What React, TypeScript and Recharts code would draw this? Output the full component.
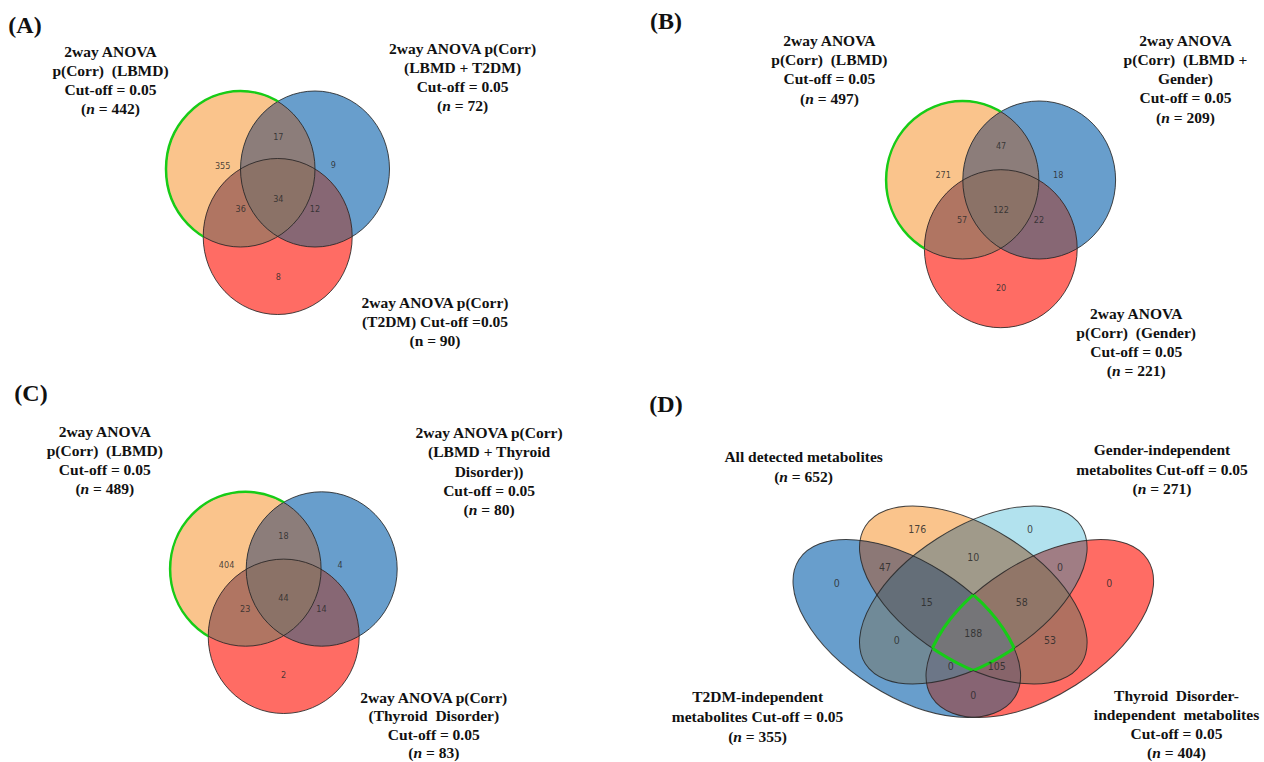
import { ScatterChart, Scatter, XAxis, YAxis } from 'recharts'

const W = 1264
const H = 762

// one bit per set, in the order the sets are listed for the panel
const TRIPLE_REGIONS = ['100', '010', '001', '110', '101', '011', '111']
const QUAD_REGIONS = [
  '1000', '0100', '0010', '0001',
  '1100', '1010', '1001', '0110', '0101', '0011',
  '1110', '1101', '1011', '0111',
  '1111',
]

const A_COUNTS = [355, 9, 8, 17, 36, 12, 34]
const B_COUNTS = [271, 18, 20, 47, 57, 22, 122]
const C_COUNTS = [404, 4, 2, 18, 23, 14, 44]
// sets: All, Gender, T2DM, Thyroid
const D_COUNTS = [176, 0, 0, 0, 10, 47, 53, 0, 0, 0, 15, 58, 105, 0, 188]

const PANEL_TAGS = ['(A)', '(B)', '(C)', '(D)']

const A_TITLES = [
  ['2way ANOVA', 'p(Corr)  (LBMD)', 'Cut-off = 0.05', '(_n_ = 442)'],
  ['2way ANOVA p(Corr)', '(LBMD + T2DM)', 'Cut-off = 0.05', '(_n_ = 72)'],
  ['2way ANOVA p(Corr)', '(T2DM) Cut-off =0.05', '(n = 90)'],
]
const B_TITLES = [
  ['2way ANOVA', 'p(Corr)  (LBMD)', 'Cut-off = 0.05', '(_n_ = 497)'],
  ['2way ANOVA', 'p(Corr)  (LBMD +', 'Gender)', 'Cut-off = 0.05', '(_n_ = 209)'],
  ['2way ANOVA', 'p(Corr)  (Gender)', 'Cut-off = 0.05', '(_n_ = 221)'],
]
const C_TITLES = [
  ['2way ANOVA', 'p(Corr)  (LBMD)', 'Cut-off = 0.05', '(_n_ = 489)'],
  ['2way ANOVA p(Corr)', '(LBMD + Thyroid', 'Disorder))', 'Cut-off = 0.05', '(_n_ = 80)'],
  ['2way ANOVA p(Corr)', '(Thyroid  Disorder)', 'Cut-off = 0.05', '(_n_ = 83)'],
]
const D_TITLES = [
  ['All detected metabolites', '(_n_ = 652)'],
  ['Gender-independent', 'metabolites Cut-off = 0.05', '(_n_ = 271)'],
  ['T2DM-independent', 'metabolites Cut-off = 0.05', '(_n_ = 355)'],
  ['Thyroid  Disorder-', 'independent  metabolites', 'Cut-off = 0.05', '(_n_ = 404)'],
]

// ---- layout (axis units are page pixels) ----
const TRIPLE_FILLS = ['#FAC48C', '#689ECC', '#FF6C64', '#8C7D7A', '#B07562', '#876774', '#8B7267']
const QUAD_FILLS = [
  '#FAC48C', '#B2E2EE', '#689ECC', '#FF6C64',
  '#A09A8A', '#8C7876', '#B07060', '#708A98', '#A07D84', '#876473',
  '#646E78', '#917668', '#87646A', '#6C7687',
  '#757578',
]
const GREEN = '#17CC17'

type Ell = { x: number; y: number; rx: number; ry: number; rot: number }
type Panel = {
  sets: Ell[]
  regions: string[]
  counts: number[]
  fills: string[]
  countPos: number[][]
  countSize: number
  titles: string[][]
  titlePos: number[][]
  tagPos: number[]
  highlight: 'outer' | 'core'
}

const PANELS: Panel[] = [
  {
    sets: [
      { x: 240.5, y: 169, rx: 74.5, ry: 78, rot: 0 },
      { x: 315, y: 169, rx: 74.5, ry: 78, rot: 0 },
      { x: 277.7, y: 236.5, rx: 74.5, ry: 78, rot: 0 },
    ],
    regions: TRIPLE_REGIONS,
    counts: A_COUNTS,
    fills: TRIPLE_FILLS,
    countPos: [[222.7, 166], [333.3, 165], [278.3, 276.7], [278.3, 136.7], [240.7, 208.3], [315, 208.3], [278.3, 198.3]],
    countSize: 9,
    titles: A_TITLES,
    titlePos: [[110.5, 51, 19], [462.6, 48.3, 19], [435, 302.7, 19]],
    tagPos: [25, 25],
    highlight: 'outer',
  },
  {
    sets: [
      { x: 962.5, y: 180, rx: 76.4, ry: 79, rot: 0 },
      { x: 1039.2, y: 180, rx: 76.4, ry: 79, rot: 0 },
      { x: 1000.8, y: 248.7, rx: 76.4, ry: 79, rot: 0 },
    ],
    regions: TRIPLE_REGIONS,
    counts: B_COUNTS,
    fills: TRIPLE_FILLS,
    countPos: [[943.2, 175], [1058.2, 175], [1001.1, 287.7], [1001.1, 146], [962.1, 220], [1038.9, 220], [1001.1, 209.3]],
    countSize: 9,
    titles: B_TITLES,
    titlePos: [[829.4, 40, 19.4], [1185.5, 40, 19.3], [1136.2, 313.3, 19.1]],
    tagPos: [666, 21],
    highlight: 'outer',
  },
  {
    sets: [
      { x: 245.6, y: 569, rx: 75.5, ry: 77.2, rot: 0 },
      { x: 321.7, y: 569, rx: 75.5, ry: 77.2, rot: 0 },
      { x: 283.7, y: 636.3, rx: 75.5, ry: 77.2, rot: 0 },
    ],
    regions: TRIPLE_REGIONS,
    counts: C_COUNTS,
    fills: TRIPLE_FILLS,
    countPos: [[226.6, 564.3], [340, 564.3], [283.5, 675], [283.5, 536], [245.2, 608.3], [321.5, 608.3], [283.5, 597.7]],
    countSize: 9,
    titles: C_TITLES,
    titlePos: [[104.8, 431, 19.2], [489.1, 432.3, 19.4], [433.8, 697, 18.5]],
    tagPos: [31, 393],
    highlight: 'outer',
  },
  {
    sets: [
      { x: 973.3, y: 595, rx: 128, ry: 67, rot: 32.5 },
      { x: 973.3, y: 595, rx: 128, ry: 67, rot: -32.5 },
      { x: 906.8, y: 628.5, rx: 128, ry: 67, rot: 32.5 },
      { x: 1039.8, y: 628.5, rx: 128, ry: 67, rot: -32.5 },
    ],
    regions: QUAD_REGIONS,
    counts: D_COUNTS,
    fills: QUAD_FILLS,
    countPos: [
      [917.3, 529.3], [1030, 529.3], [836.7, 583.3], [1109.3, 583.3],
      [973.3, 557.3], [885, 567.7], [1050, 640.7], [896.7, 640.7], [1060, 567.7], [973.3, 695],
      [926.7, 602.7], [1021.7, 602.7], [996.7, 666.7], [950.7, 666.7],
      [973.3, 633.3],
    ],
    countSize: 10.5,
    titles: D_TITLES,
    titlePos: [[803.6, 456.7, 20], [1162, 449.3, 19.7], [757.6, 696, 20], [1176.5, 695, 19]],
    tagPos: [666, 404],
    highlight: 'core',
  },
]

const drawEll = (e: Ell, props: Record<string, unknown>, key?: string | number) => (
  <ellipse
    key={key}
    cx={e.x}
    cy={e.y}
    rx={e.rx}
    ry={e.ry}
    transform={e.rot ? `rotate(${e.rot} ${e.x} ${e.y})` : undefined}
    {...props}
  />
)

// wrap a node so it only shows inside every listed ellipse
function clipInside(node: JSX.Element, sets: Ell[], members: number[], id: string) {
  let out = node
  members.forEach((m, j) => {
    out = <g clipPath={`url(#${id}-${j})`}>{out}</g>
  })
  return (
    <g>
      <defs>
        {members.map((m, j) => (
          <clipPath key={j} id={`${id}-${j}`}>
            {drawEll(sets[m], {})}
          </clipPath>
        ))}
      </defs>
      {out}
    </g>
  )
}

const regionData = PANELS.flatMap((p, pi) =>
  p.regions.map((code, ri) => ({
    x: p.countPos[ri][0],
    y: p.countPos[ri][1],
    panel: pi,
    code,
    color: p.fills[ri],
    count: p.counts[ri],
    size: p.countSize,
  })),
)

const setData = PANELS.flatMap((p, pi) => p.sets.map((s, si) => ({ x: s.x, y: s.y, panel: pi, idx: si })))

const highlightData = PANELS.map((p, pi) => ({ x: p.sets[0].x, y: p.sets[0].y, panel: pi }))

const titleData = PANELS.flatMap((p) =>
  p.titles.map((lines, ti) => ({
    x: p.titlePos[ti][0],
    y: p.titlePos[ti][1],
    step: p.titlePos[ti][2],
    lines,
  })),
)

const tagData = PANELS.map((p, pi) => ({ x: p.tagPos[0], y: p.tagPos[1], tag: PANEL_TAGS[pi] }))

function RegionShape(props: any) {
  const { panel, code, color } = props.payload
  const sets = PANELS[panel].sets
  const members = code.split('').map((c: string, i: number) => (c === '1' ? i : -1)).filter((i: number) => i >= 0)
  const last = members[members.length - 1]
  return clipInside(drawEll(sets[last], { fill: color }), sets, members.slice(0, -1), `rg-${panel}-${code}`)
}

function OutlineShape(props: any) {
  const { cx, cy, payload } = props
  const e = PANELS[payload.panel].sets[payload.idx]
  return drawEll({ ...e, x: cx, y: cy }, { fill: 'none', stroke: '#262626', strokeOpacity: 0.85, strokeWidth: 1 })
}

function HighlightShape(props: any) {
  const { panel } = props.payload
  const p = PANELS[panel]
  if (p.highlight === 'outer') {
    const id = `hl-${panel}`
    return (
      <g>
        <defs>
          <mask id={id} maskUnits="userSpaceOnUse" x={0} y={0} width={W} height={H}>
            <rect x={0} y={0} width={W} height={H} fill="white" />
            {p.sets.slice(1).map((e, i) => drawEll(e, { fill: 'black' }, i))}
          </mask>
        </defs>
        <g mask={`url(#${id})`}>{drawEll(p.sets[0], { fill: 'none', stroke: GREEN, strokeWidth: 2.5 })}</g>
      </g>
    )
  }
  // outline of the region shared by every set
  return (
    <g>
      {p.sets.map((e, i) => {
        const others = p.sets.map((_, j) => j).filter((j) => j !== i)
        return (
          <g key={i}>
            {clipInside(drawEll(e, { fill: 'none', stroke: GREEN, strokeWidth: 3.2 }), p.sets, others, `hc-${panel}-${i}`)}
          </g>
        )
      })}
    </g>
  )
}

function CountShape(props: any) {
  const { cx, cy, payload } = props
  return (
    <text
      x={cx}
      y={cy + payload.size * 0.36}
      textAnchor="middle"
      fontFamily="'DejaVu Sans Condensed', 'DejaVu Sans', sans-serif"
      fontSize={payload.size}
      fill="#2a2a2a"
      fillOpacity={0.85}
    >
      {payload.count}
    </text>
  )
}

function renderLine(line: string) {
  const parts = line.split('_')
  return parts.map((part, i) => (
    <tspan key={i} fontStyle={i % 2 === 1 ? 'italic' : 'normal'}>
      {part}
    </tspan>
  ))
}

function TitleShape(props: any) {
  const { cx, cy, payload } = props
  return (
    <g>
      {payload.lines.map((line: string, i: number) => (
        <text
          key={i}
          x={cx}
          y={cy + i * payload.step + 5.5}
          textAnchor="middle"
          fontFamily="'Liberation Serif', 'Times New Roman', serif"
          fontWeight="bold"
          fontSize={15.5}
          fill="#111"
          style={{ whiteSpace: 'pre' }}
        >
          {renderLine(line)}
        </text>
      ))}
    </g>
  )
}

function TagShape(props: any) {
  const { cx, cy, payload } = props
  return (
    <text
      x={cx}
      y={cy + 8}
      textAnchor="middle"
      fontFamily="'Liberation Serif', 'Times New Roman', serif"
      fontWeight="bold"
      fontSize={24}
      fill="#111"
    >
      {payload.tag}
    </text>
  )
}

export default function App() {
  return (
    <div style={{ position: 'absolute', left: 0, top: 0, width: W, height: H, background: '#fff' }}>
      <ScatterChart width={W} height={H} margin={{ top: 0, right: 0, bottom: 0, left: 0 }}>
        <XAxis type="number" dataKey="x" domain={[0, W]} hide />
        <YAxis type="number" dataKey="y" domain={[0, H]} reversed hide />
        <Scatter data={regionData} shape={RegionShape} isAnimationActive={false} />
        <Scatter data={setData} shape={OutlineShape} isAnimationActive={false} />
        <Scatter data={highlightData} shape={HighlightShape} isAnimationActive={false} />
        <Scatter data={regionData} shape={CountShape} isAnimationActive={false} />
        <Scatter data={titleData} shape={TitleShape} isAnimationActive={false} />
        <Scatter data={tagData} shape={TagShape} isAnimationActive={false} />
      </ScatterChart>
    </div>
  )
}
